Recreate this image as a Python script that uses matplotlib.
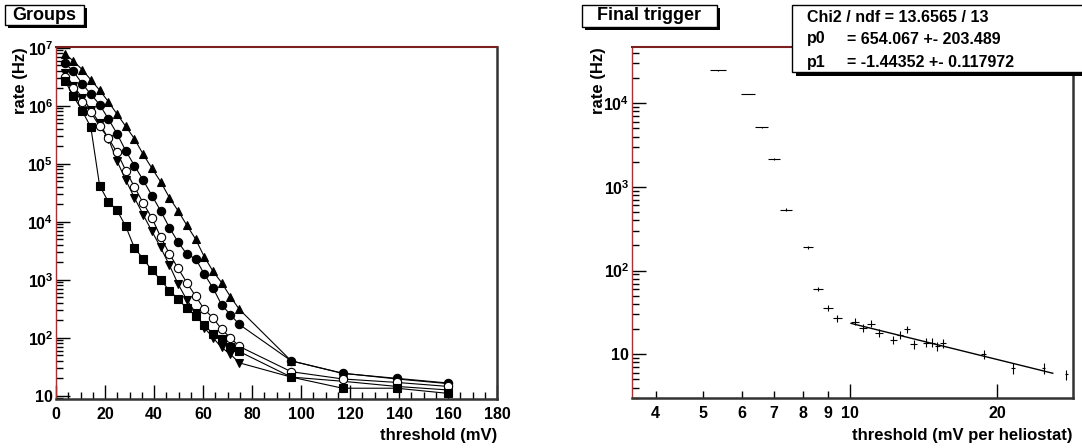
import numpy as np
import matplotlib.pyplot as plt
from matplotlib.patches import Rectangle
from matplotlib.ticker import MultipleLocator, FixedLocator, LogLocator, FuncFormatter, NullFormatter

plt.rcParams['font.family'] = ['Liberation Sans', 'DejaVu Sans']
plt.rcParams['font.weight'] = 'bold'
plt.rcParams['mathtext.fontset'] = 'custom'
plt.rcParams['mathtext.rm'] = 'Liberation Sans:bold'
plt.rcParams['mathtext.it'] = 'Liberation Sans:bold'
plt.rcParams['mathtext.bf'] = 'Liberation Sans:bold'

# ---- left panel: rate vs threshold for the groups ----
threshold = [3.6, 7.1, 10.7, 14.2, 17.8, 21.4, 24.9, 28.5, 32.0, 35.6, 39.2, 42.7,
             46.3, 49.8, 53.4, 57.0, 60.5, 64.1, 67.6, 71.2, 74.8, 96, 117, 139, 160]
rate_tri_up = [7.9e6, 5.9e6, 4.2e6, 2.8e6, 1.86e6, 1.17e6, 7.2e5, 4.4e5, 2.7e5, 1.45e5,
               8.3e4, 4.9e4, 2.6e4, 1.55e4, 8700, 5000, 2500, 1400, 890, 510, 310,
               40, 24.5, 19.5, 16.2]
rate_circle = [5.5e6, 3.9e6, 2.4e6, 1.58e6, 1.05e6, 5.9e5, 3.3e5, 1.66e5, 9.3e4, 5.2e4,
               2.8e4, 1.55e4, 7900, 4500, 2750, 2300, 1260, 720, 370, 250, 170,
               40, 24.3, 20, 16.6]
rate_tri_down = [3.6e6, 2.2e6, 1.38e6, 8.5e5, 5.0e5, 2.7e5, 1.12e5, 5.2e4, 2.6e4, 1.32e4,
                 6800, 3600, 1780, 850, 450, 270, 150, 100, 68, 52, 37,
                 21, 17.8, 14.5, 12.6]
rate_open = [3.1e6, 2.0e6, 1.15e6, 7.8e5, 4.4e5, 2.75e5, 1.58e5, 7.6e4, 4.0e4, 2.1e4,
             1.15e4, 5500, 2800, 1580, 890, 520, 310, 220, 140, 100, 71,
             26, 19.5, 17, 14.5]
rate_square = [2.7e6, 1.48e6, 8.1e5, 4.3e5, 4.2e4, 2.2e4, 1.58e4, 8300, 3550, 2300,
               1450, 1000, 650, 470, 320, 240, 166, 117, 95, 69, 58,
               21, 13.5, 13.5, 11]

# ---- right panel: final trigger ----
thr_helio = [5.38, 6.19, 6.60, 7.0, 7.40, 8.21, 8.61, 9.01, 9.42, 10.25, 10.65, 11.03,
             11.47, 12.27, 12.66, 13.07, 13.49, 14.30, 14.71, 15.1, 15.5, 18.77,
             21.6, 24.9, 27.7]
rate_final = [24700, 12900, 5150, 2150, 537, 189, 61, 36, 26.8, 24.5, 20.8, 23.2,
              18.1, 14.8, 17.0, 19.9, 13.2, 13.8, 13.8, 12.6, 13.5, 10.0,
              6.87, 6.77, 5.73]
rate_final_err = [150, 100, 60, 40, 15, 7, 3.5, 2.8, 2.4, 2.3, 2.1, 2.2,
                  1.9, 1.7, 1.8, 2.0, 1.6, 1.7, 1.7, 1.6, 1.6, 1.3,
                  1.0, 1.0, 0.8]
thr_err = 0.2
p0, p1 = 654.067, -1.44352

W, H = 1082, 448
fig = plt.figure(figsize=(W / 100, H / 100), dpi=100)


def box(x0, y0, x1, y1):
    # pixel box (y measured from top) -> figure fraction rect
    return [x0 / W, 1 - y1 / H, (x1 - x0) / W, (y1 - y0) / H]


def pave(x0, y0, x1, y1, shadow=3):
    fig.patches.append(Rectangle((x0 / W + shadow / W, 1 - y1 / H - shadow / H),
                                 (x1 - x0) / W, (y1 - y0) / H, transform=fig.transFigure,
                                 facecolor='black', edgecolor='black', lw=0))
    fig.patches.append(Rectangle((x0 / W, 1 - y1 / H), (x1 - x0) / W, (y1 - y0) / H,
                                 transform=fig.transFigure, facecolor='white',
                                 edgecolor='black', lw=1))


def log_label(v, pos):
    e = int(round(np.log10(v)))
    if e == 1:
        return '10'
    return r'$10^{%d}$' % e


def style_frame(ax):
    ax.spines['top'].set_color('#7b1f1f')
    ax.spines['top'].set_linewidth(1.5)
    ax.spines['left'].set_color('#a83232')
    ax.spines['left'].set_linewidth(1.0)
    for s in ['bottom', 'right']:
        ax.spines[s].set_color('#333333')
        ax.spines[s].set_linewidth(1.8)
    ax.tick_params(which='both', direction='in', top=False, right=False,
                   labelsize=11.5, colors='black')
    ax.tick_params(which='major', length=10, width=1)
    ax.tick_params(which='minor', length=5, width=1)
    ax.tick_params(axis='x', pad=6)
    ax.tick_params(axis='y', pad=2)


# left
ax1 = fig.add_axes(box(56, 47, 497, 399))
groups = [(rate_tri_up, '^', 'black'), (rate_circle, 'o', 'black'),
          (rate_tri_down, 'v', 'black'), (rate_open, 'o', 'white'),
          (rate_square, 's', 'black')]
for rates, mk, fc in groups:
    ax1.plot(threshold, rates, color='black', lw=0.8, marker=mk, ms=6,
             mfc=fc, mec='black', mew=0.8)
ax1.set_yscale('log')
ax1.set_xlim(0, 180)
ax1.set_ylim(8.8, 1.03e7)
ax1.xaxis.set_major_locator(MultipleLocator(20))
ax1.xaxis.set_minor_locator(MultipleLocator(5))
ax1.yaxis.set_major_locator(FixedLocator([1e1, 1e2, 1e3, 1e4, 1e5, 1e6, 1e7]))
ax1.yaxis.set_minor_locator(LogLocator(base=10, subs=np.arange(2, 10)))
ax1.yaxis.set_major_formatter(FuncFormatter(log_label))
ax1.yaxis.set_minor_formatter(NullFormatter())
style_frame(ax1)

# right
ax2 = fig.add_axes(box(632, 47, 1073, 398))
ax2.errorbar(thr_helio, rate_final, xerr=thr_err, yerr=rate_final_err, fmt='none',
             ecolor='black', elinewidth=0.8, capsize=0)
xfit = np.geomspace(10.05, 26, 100)
ax2.plot(xfit, p0 * xfit ** p1, color='black', lw=1)
ax2.set_xscale('log')
ax2.set_yscale('log')
ax2.set_xlim(3.58, 28.6)
ax2.set_ylim(3.0, 4.7e4)
ax2.xaxis.set_major_locator(FixedLocator([10, 20]))
ax2.xaxis.set_minor_locator(FixedLocator([4, 5, 6, 7, 8, 9]))
ax2.xaxis.set_major_formatter(FuncFormatter(lambda v, p: '%d' % v))
ax2.xaxis.set_minor_formatter(FuncFormatter(lambda v, p: '%d' % v))
ax2.yaxis.set_major_locator(FixedLocator([1e1, 1e2, 1e3, 1e4]))
ax2.yaxis.set_minor_locator(LogLocator(base=10, subs=np.arange(2, 10)))
ax2.yaxis.set_major_formatter(FuncFormatter(log_label))
ax2.yaxis.set_minor_formatter(NullFormatter())
style_frame(ax2)
ax2.tick_params(axis='x', which='minor', pad=6, labelsize=11.5)

# axis titles
fig.text(20 / W, 1 - 47 / H, 'rate (Hz)', rotation=90, ha='center', va='top', fontsize=12)
fig.text(598 / W, 1 - 47 / H, 'rate (Hz)', rotation=90, ha='center', va='top', fontsize=12)
fig.text(497 / W, 1 - 435 / H, 'threshold (mV)', ha='right', va='center', fontsize=12)
fig.text(1073 / W, 1 - 435 / H, 'threshold (mV per heliostat)', ha='right', va='center',
         fontsize=12)

# title boxes
pave(5, 5, 84, 25)
fig.text(44.5 / W, 1 - 15 / H, 'Groups', ha='center', va='center', fontsize=13)
pave(582, 5, 717, 27)
fig.text(649 / W, 1 - 16 / H, 'Final trigger', ha='center', va='center', fontsize=13)

# fit statistics box
pave(792, 5, 1084, 72, shadow=4)
fig.text(807 / W, 1 - 17 / H, 'Chi2 / ndf = 13.6565 / 13', ha='left', va='center',
         fontsize=11.5)
fig.text(807 / W, 1 - 39 / H, 'p0', ha='left', va='center', fontsize=11.5)
fig.text(847 / W, 1 - 39 / H, '= 654.067 +- 203.489', ha='left', va='center', fontsize=11.5)
fig.text(807 / W, 1 - 62 / H, 'p1', ha='left', va='center', fontsize=11.5)
fig.text(847 / W, 1 - 62 / H, '= -1.44352 +- 0.117972', ha='left', va='center',
         fontsize=11.5)

fig.savefig('out.png', dpi=100)
